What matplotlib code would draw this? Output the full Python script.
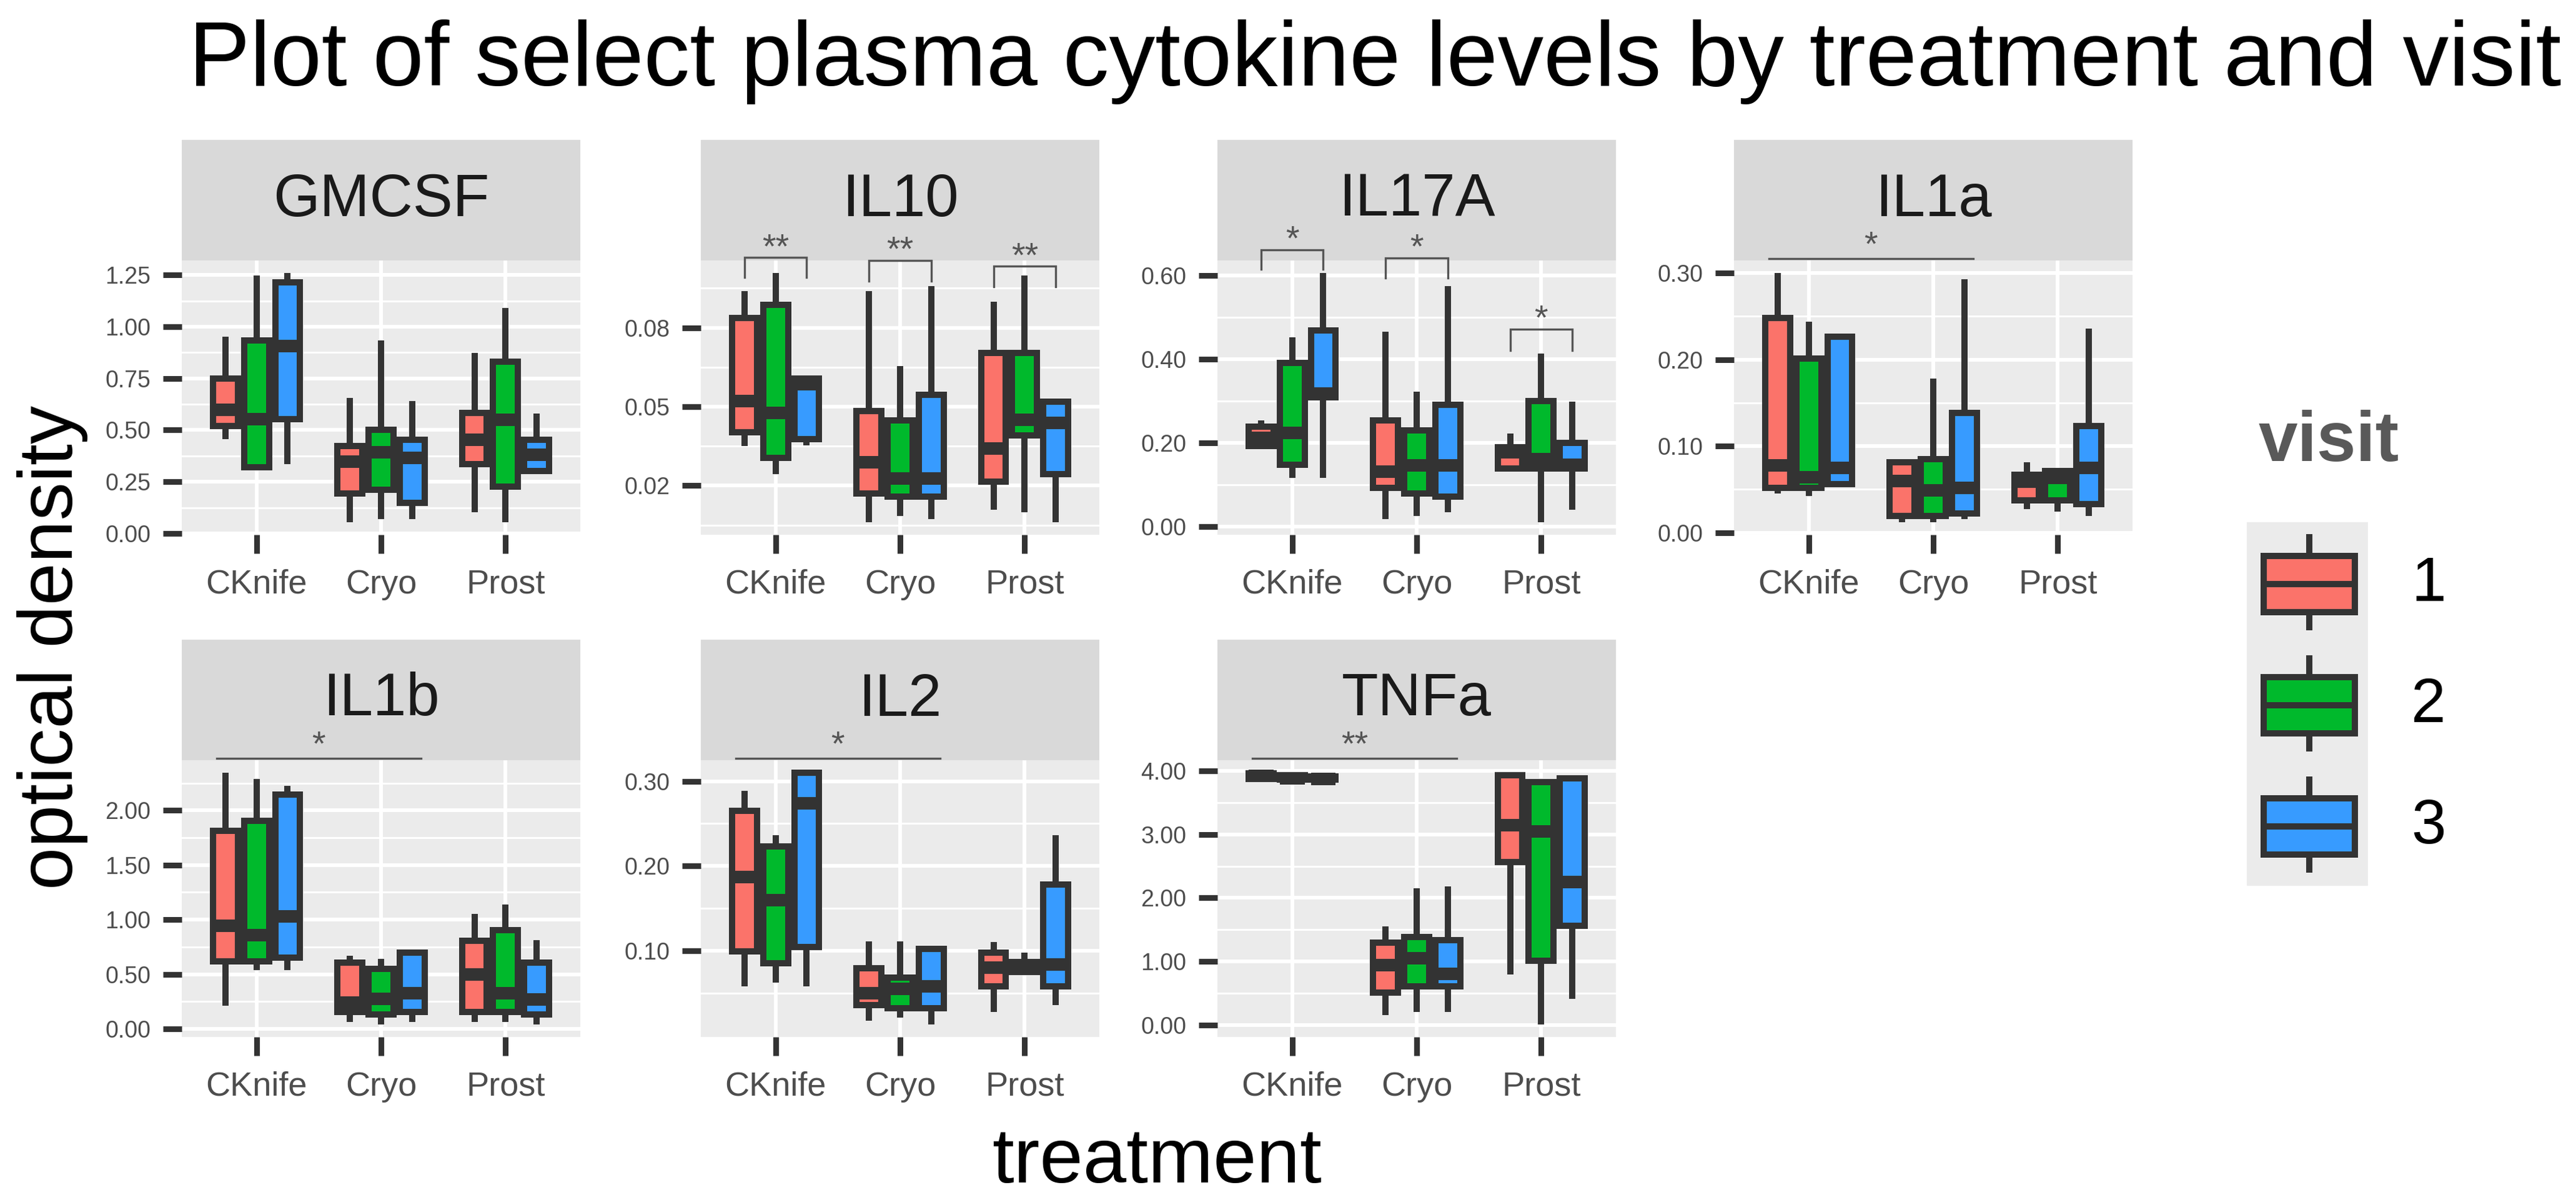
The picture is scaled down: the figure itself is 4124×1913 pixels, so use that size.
import matplotlib
matplotlib.use('Agg')
import matplotlib.pyplot as plt
from matplotlib.patches import Rectangle
from matplotlib.lines import Line2D
from matplotlib.ticker import FixedLocator
import matplotlib.transforms as mtransforms
import numpy as np

plt.rcParams['font.family'] = ['Liberation Sans', 'DejaVu Sans']

# ---------------- data ----------------
treatments = ['CKnife', 'Cryo', 'Prost']
visits = ['1', '2', '3']
visit_colors = ['#FB736A', '#00B92C', '#379BFF']

# box stats (whislo, q1, median, q3, whishi); order: CKnife v1..v3, Cryo v1..v3, Prost v1..v3
GMCSF = [(0.456, 0.518, 0.597, 0.750, 0.951), (0.320, 0.320, 0.552, 0.933, 1.247), (0.334, 0.552, 0.905, 1.215, 1.260),
         (0.054, 0.193, 0.347, 0.422, 0.654), (0.068, 0.211, 0.392, 0.501, 0.933), (0.068, 0.147, 0.364, 0.452, 0.640),
         (0.102, 0.334, 0.454, 0.583, 0.872), (0.054, 0.225, 0.549, 0.831, 1.090), (0.302, 0.302, 0.379, 0.452, 0.579)]
IL10 = [(0.0350, 0.0402, 0.0522, 0.0837, 0.0939), (0.0243, 0.0305, 0.0476, 0.0887, 0.1008), (0.0352, 0.0377, 0.0586, 0.0607, 0.0607),
        (0.0061, 0.0170, 0.0290, 0.0484, 0.0939), (0.0085, 0.0158, 0.0228, 0.0449, 0.0655), (0.0072, 0.0158, 0.0228, 0.0545, 0.0958),
        (0.0109, 0.0216, 0.0340, 0.0703, 0.0898), (0.0099, 0.0391, 0.0451, 0.0703, 0.0998), (0.0061, 0.0243, 0.0438, 0.0519, 0.0519)]
IL17A = [(0.190, 0.193, 0.211, 0.238, 0.253), (0.116, 0.148, 0.224, 0.391, 0.452), (0.116, 0.309, 0.317, 0.468, 0.606),
         (0.017, 0.092, 0.131, 0.253, 0.466), (0.025, 0.079, 0.146, 0.230, 0.322), (0.034, 0.071, 0.146, 0.291, 0.574),
         (0.139, 0.139, 0.177, 0.190, 0.222), (0.010, 0.139, 0.161, 0.300, 0.413), (0.040, 0.139, 0.148, 0.199, 0.299)]
IL1a = [(0.045, 0.052, 0.078, 0.248, 0.300), (0.042, 0.052, 0.064, 0.201, 0.244), (0.056, 0.056, 0.075, 0.226, 0.226),
        (0.012, 0.019, 0.060, 0.081, 0.081), (0.012, 0.019, 0.049, 0.085, 0.178), (0.016, 0.022, 0.052, 0.138, 0.293),
        (0.027, 0.037, 0.059, 0.067, 0.081), (0.024, 0.037, 0.063, 0.071, 0.071), (0.019, 0.033, 0.075, 0.123, 0.236)]
IL1b = [(0.212, 0.618, 0.944, 1.815, 2.344), (0.535, 0.618, 0.856, 1.903, 2.285), (0.535, 0.653, 1.032, 2.147, 2.226),
        (0.065, 0.153, 0.238, 0.609, 0.668), (0.041, 0.129, 0.274, 0.550, 0.638), (0.065, 0.153, 0.326, 0.697, 0.697),
        (0.065, 0.153, 0.500, 0.806, 1.050), (0.065, 0.153, 0.326, 0.903, 1.138), (0.041, 0.129, 0.268, 0.609, 0.815)]
IL2 = [(0.058, 0.099, 0.187, 0.265, 0.289), (0.062, 0.085, 0.160, 0.223, 0.236), (0.058, 0.104, 0.274, 0.310, 0.310),
       (0.017, 0.036, 0.050, 0.079, 0.111), (0.021, 0.032, 0.055, 0.068, 0.111), (0.013, 0.032, 0.058, 0.102, 0.102),
       (0.028, 0.058, 0.080, 0.098, 0.110), (0.075, 0.075, 0.081, 0.087, 0.098), (0.036, 0.058, 0.084, 0.178, 0.236)]
TNFa = [(3.86, 3.87, 3.92, 3.96, 3.97), (3.85, 3.86, 3.88, 3.93, 3.95), (3.85, 3.86, 3.87, 3.91, 3.93),
        (0.16, 0.51, 0.945, 1.30, 1.55), (0.21, 0.61, 1.05, 1.385, 2.15), (0.21, 0.61, 0.805, 1.335, 2.185),
        (0.80, 2.57, 3.15, 3.935, 3.935), (0.01, 1.01, 3.05, 3.82, 3.82), (0.41, 1.56, 2.255, 3.885, 3.885)]

cytokines = ['GMCSF', 'IL10', 'IL17A', 'IL1a', 'IL1b', 'IL2', 'TNFa']
cyto_stats = [GMCSF, IL10, IL17A, IL1a, IL1b, IL2, TNFa]
cyto_ticks = [[0, 0.25, 0.5, 0.75, 1.0, 1.25], [0.02, 0.05, 0.08], [0, 0.2, 0.4, 0.6], [0, 0.1, 0.2, 0.3],
              [0, 0.5, 1.0, 1.5, 2.0], [0.1, 0.2, 0.3], [0, 1, 2, 3, 4]]

# significance brackets within a treatment (visit 1 vs visit 3): (treatment index, bracket y, tip y, label)
IL10_brackets = [(0, 0.1067, 0.0991, '**'), (1, 0.1056, 0.0977, '**'), (2, 0.1034, 0.0955, '**')]
IL17A_brackets = [(0, 0.6617, 0.615, '*'), (1, 0.642, 0.594, '*'), (2, 0.472, 0.421, '*')]
brackets = {'IL10': IL10_brackets, 'IL17A': IL17A_brackets}
# significance line CKnife vs Cryo
sig_lines = {'IL1a': '*', 'IL1b': '*', 'IL2': '*', 'TNFa': '**'}

title = 'Plot of select plasma cytokine levels by treatment and visit'

# ---------------- layout ----------------
W, H = 4124, 1913
fig = plt.figure(figsize=(W / 100, H / 100), dpi=100)


def rect(l, t, w, h):
    return [l / W, 1 - (t + h) / H, w / W, h / H]


COL_L = [291, 1122, 1949, 2776]
PANEL_W = 638
STRIP_T = [224, 1024]
PANEL_T = [417, 1217]
PANEL_B = [856, 1660]

LW = 7.2
EDGE = '#333333'
TXT = '#4D4D4D'
SIG = '#555555'

for i, name in enumerate(cytokines):
    r, c = divmod(i, 4)
    stats = cyto_stats[i]
    ticks = cyto_ticks[i]
    left = COL_L[c]
    sax = fig.add_axes(rect(left, STRIP_T[r], PANEL_W, PANEL_T[r] - STRIP_T[r]))
    sax.set_facecolor('#D9D9D9')
    sax.set_xticks([]); sax.set_yticks([])
    for s in sax.spines.values():
        s.set_visible(False)
    sax.text(0.5, 0.5, name, transform=sax.transAxes, ha='center', va='center',
             fontsize=69, color='#1A1A1A')
    sax.set_zorder(1)

    ax = fig.add_axes(rect(left, PANEL_T[r], PANEL_W, PANEL_B[r] - PANEL_T[r]))
    ax.set_zorder(2)
    ax.set_facecolor('#EBEBEB')
    for s in ax.spines.values():
        s.set_visible(False)

    for vi in range(3):
        st = []
        pos = []
        for ti in range(3):
            lo, q1, med, q3, hi = stats[ti * 3 + vi]
            st.append(dict(whislo=lo, q1=q1, med=med, q3=q3, whishi=hi, fliers=[]))
            pos.append(ti + 1 + (vi - 1) * 0.25)
        ax.bxp(st, positions=pos, widths=0.2, patch_artist=True, showfliers=False, showcaps=False,
               manage_ticks=False,
               boxprops=dict(facecolor=visit_colors[vi], edgecolor=EDGE, linewidth=LW),
               whiskerprops=dict(color=EDGE, linewidth=LW, solid_capstyle='butt'),
               medianprops=dict(color=EDGE, linewidth=LW * 2, solid_capstyle='butt'))

    allv = [v for s5 in stats for v in s5]
    lo_, hi_ = min(allv), max(allv)
    rng = hi_ - lo_
    ylo, yhi = lo_ - 0.05 * rng, hi_ + 0.05 * rng
    ax.set_ylim(ylo, yhi)
    ax.set_xlim(0.4, 3.6)
    ax.set_xticks([1, 2, 3])
    ax.set_xticklabels(treatments)
    ax.set_yticks(ticks)
    ax.set_yticklabels(['%.2f' % t for t in ticks])
    step = ticks[1] - ticks[0]
    minors = [m for m in np.arange(ticks[0] - step / 2, ticks[-1] + step, step) if ylo < m < yhi]
    ax.yaxis.set_minor_locator(FixedLocator(minors))
    ax.set_axisbelow(True)
    ax.grid(which='major', color='white', linewidth=4.3)
    ax.grid(which='minor', axis='y', color='white', linewidth=2.2)
    ax.tick_params(axis='both', which='major', length=21.6, width=6.5, color=EDGE, labelcolor=TXT)
    ax.tick_params(axis='y', which='minor', length=0)
    ax.tick_params(axis='x', labelsize=39, pad=18)
    ax.tick_params(axis='y', labelsize=27, pad=14)

    if name in brackets:
        for ti, yb, yt, lab in brackets[name]:
            x1, x2 = ti + 1 - 0.25, ti + 1 + 0.25
            ax.plot([x1, x1, x2, x2], [yt, yb, yb, yt], color=SIG, lw=2.4, clip_on=False,
                    solid_joinstyle='miter')
            ax.text((x1 + x2) / 2, yb, lab, ha='center', va='baseline', fontsize=40, color=SIG,
                    clip_on=False)
    if name in sig_lines:
        tr = mtransforms.blended_transform_factory(ax.transData, ax.transAxes)
        ax.plot([0.68, 2.32], [1.006, 1.006], transform=tr, color=SIG, lw=2.4, clip_on=False)
        ax.text(1.5, 1.02, sig_lines[name], transform=tr, ha='center', va='baseline',
                fontsize=40, color=SIG, clip_on=False)

# titles
fig.text(302 / W, 1 - 137 / H, title, ha='left', va='baseline', fontsize=106, color='black')
fig.text(1852 / W, 1 - 1893 / H, 'treatment', ha='center', va='baseline', fontsize=90, color='black')
fig.text(84 / W, 1 - 1037 / H, 'optical density', rotation=90, ha='center', va='center',
         fontsize=88, color='black')

# legend
lax = fig.add_axes(rect(3597, 836, 194, 582))
lax.set_facecolor('#EBEBEB')
lax.set_xlim(0, 1)
lax.set_ylim(3, 0)
lax.set_xticks([]); lax.set_yticks([])
for s in lax.spines.values():
    s.set_visible(False)
for k in range(3):
    lax.add_patch(Rectangle((0.139, k + 0.28), 0.753, 0.46, facecolor=visit_colors[k], edgecolor=EDGE,
                            linewidth=LW))
    lax.add_line(Line2D([0.139, 0.892], [k + 0.51, k + 0.51], color=EDGE, linewidth=LW, solid_capstyle='butt'))
    lax.add_line(Line2D([0.515, 0.515], [k + 0.10, k + 0.28], color=EDGE, linewidth=LW, solid_capstyle='butt'))
    lax.add_line(Line2D([0.515, 0.515], [k + 0.74, k + 0.89], color=EDGE, linewidth=LW, solid_capstyle='butt'))
    fig.text(3860 / W, 1 - (836 + 194 * k + 100) / H, visits[k], ha='left', va='center', fontsize=72,
             color='black')
fig.text(3616 / W, 1 - 738 / H, 'visit', ha='left', va='baseline', fontsize=81, fontweight='bold',
         color='#595959')

fig.savefig('out.png', dpi=100)
